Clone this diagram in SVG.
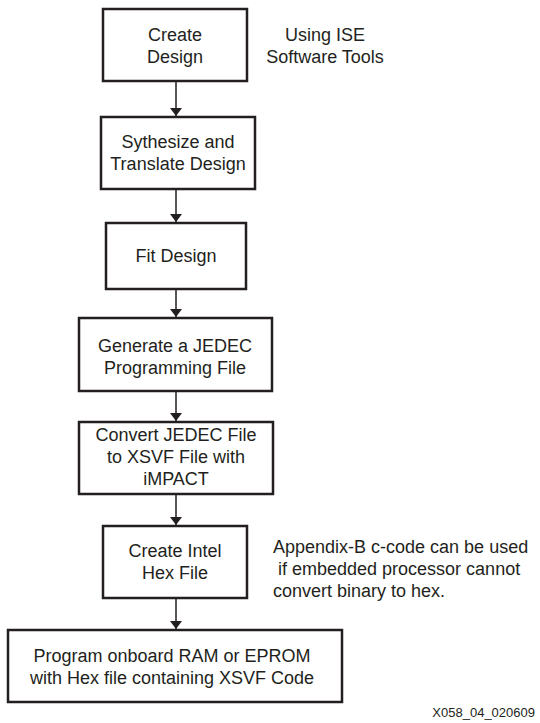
<svg xmlns="http://www.w3.org/2000/svg" width="540" height="723" viewBox="0 0 540 723">
<style>
  .box { fill: #ffffff; stroke: #231f20; stroke-width: 2.5; }
  .t { font-family: "Liberation Sans", Arial, sans-serif; font-size: 18px; fill: #231f20; }
  .c { text-anchor: middle; }
  .conn line { stroke: #231f20; stroke-width: 1.5; }
  .lbl { font-family: "Liberation Sans", Arial, sans-serif; font-size: 13px; fill: #231f20; text-anchor: end; }
</style>
<defs>
  <marker id="arr" viewBox="0 0 10 10" refX="10" refY="5" markerWidth="8" markerHeight="12" markerUnits="userSpaceOnUse" orient="auto" preserveAspectRatio="none">
    <path d="M0,0 L10,5 L0,10 Z" fill="#231f20"/>
  </marker>
</defs>
<rect width="540" height="723" fill="#ffffff"/>

<g id="connectors" class="conn">
  <line x1="176" y1="81" x2="176" y2="116" marker-end="url(#arr)"/>
  <line x1="176" y1="189" x2="176" y2="222" marker-end="url(#arr)"/>
  <line x1="176" y1="289" x2="176" y2="317" marker-end="url(#arr)"/>
  <line x1="176" y1="391" x2="176" y2="421" marker-end="url(#arr)"/>
  <line x1="176" y1="494" x2="176" y2="525" marker-end="url(#arr)"/>
  <line x1="176" y1="598" x2="176" y2="629" marker-end="url(#arr)"/>
</g>

<g id="n1">
  <rect class="box" x="103" y="9" width="144" height="72"/>
  <text class="t c" x="175" y="41">Create</text>
  <text class="t c" x="175" y="63">Design</text>
</g>
<g id="n2">
  <rect class="box" x="101" y="117" width="154" height="72"/>
  <text class="t c" x="178" y="148">Sythesize and</text>
  <text class="t c" x="178" y="170">Translate Design</text>
</g>
<g id="n3">
  <rect class="box" x="106" y="223" width="140" height="66"/>
  <text class="t c" x="176" y="262">Fit Design</text>
</g>
<g id="n4">
  <rect class="box" x="79" y="318" width="193" height="73"/>
  <text class="t c" x="175" y="352">Generate a JEDEC</text>
  <text class="t c" x="175" y="374">Programming File</text>
</g>
<g id="n5">
  <rect class="box" x="79" y="422" width="194" height="72"/>
  <text class="t c" x="176" y="441">Convert JEDEC File</text>
  <text class="t c" x="176" y="463">to XSVF File with</text>
  <text class="t c" x="176" y="485">iMPACT</text>
</g>
<g id="n6">
  <rect class="box" x="103" y="526" width="144" height="72"/>
  <text class="t c" x="175" y="557">Create Intel</text>
  <text class="t c" x="175" y="579">Hex File</text>
</g>
<g id="n7">
  <rect class="box" x="8" y="630" width="334" height="72"/>
  <text class="t c" x="172" y="662">Program onboard RAM or EPROM</text>
  <text class="t c" x="172" y="684">with Hex file containing XSVF Code</text>
</g>

<g id="notes">
  <text class="t c" x="325" y="41">Using ISE</text>
  <text class="t c" x="325" y="63">Software Tools</text>
  <text class="t" x="273" y="553">Appendix-B c-code can be used</text>
  <text class="t" x="278" y="575">if embedded processor cannot</text>
  <text class="t" x="273" y="597">convert binary to hex.</text>
  <text class="lbl" x="535" y="717">X058_04_020609</text>
</g>
</svg>
